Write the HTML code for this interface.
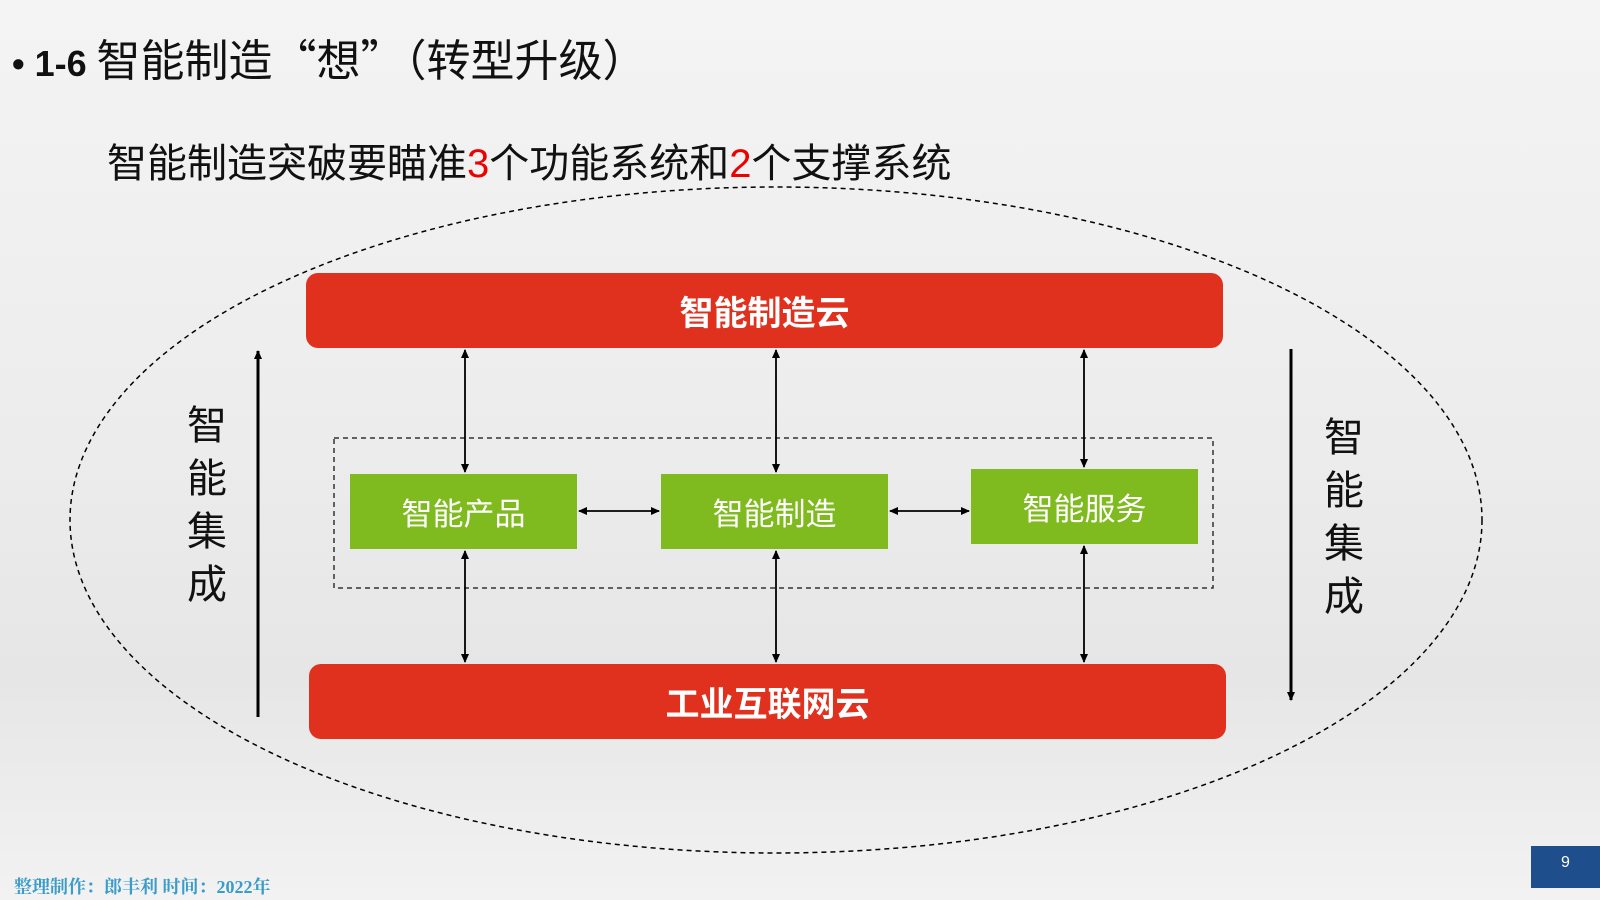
<!DOCTYPE html>
<html><head><meta charset="utf-8"><style>
body{margin:0;width:1600px;height:900px;overflow:hidden;background:linear-gradient(180deg,#f4f4f4 0%,#ececec 50%,#e6e6e6 75%,#f2f2f2 100%);font-family:"Liberation Sans","Noto Sans CJK SC",sans-serif;position:relative}
.t{position:absolute;white-space:nowrap}
.red{position:absolute;background:#e0301e;border-radius:12px;color:#fff;font-weight:bold;font-size:34px;display:flex;align-items:center;justify-content:center}
.g{position:absolute;background:#7fba1f;color:#fff;font-size:31px;display:flex;align-items:center;justify-content:center}
.v{position:absolute;font-size:40px;color:#111;line-height:53px;width:44px;text-align:center}
</style></head><body>
<div class="t" style="left:12px;top:25px;font-size:44px;color:#111;font-family:'Noto Sans CJK SC',sans-serif"><b style="font-size:36px;font-family:'Liberation Sans',sans-serif">• 1-6</b> 智能制造“想”（转型升级）</div>
<div class="t" style="left:107px;top:131px;font-size:40px;color:#111">智能制造突破要瞄准<span style="color:#e00">3</span>个功能系统和<span style="color:#e00">2</span>个支撑系统</div>
<svg width="1600" height="900" style="position:absolute;left:0;top:0">
<defs><marker id="a" markerWidth="10" markerHeight="10" refX="8" refY="5" orient="auto-start-reverse" markerUnits="userSpaceOnUse"><path d="M0,1 L9,5 L0,9 z" fill="#000"/></marker></defs>
<ellipse cx="776" cy="520" rx="706" ry="333" fill="none" stroke="#000" stroke-width="1.5" stroke-dasharray="5,4"/>
<rect x="334" y="438" width="879" height="150" fill="none" stroke="#333" stroke-width="1.5" stroke-dasharray="5,4"/>
<g stroke="#000" stroke-width="1.8" marker-start="url(#a)" marker-end="url(#a)">
<line x1="465" y1="350" x2="465" y2="472"/><line x1="776" y1="350" x2="776" y2="472"/><line x1="1084" y1="350" x2="1084" y2="467"/>
<line x1="465" y1="551" x2="465" y2="662"/><line x1="776" y1="551" x2="776" y2="662"/><line x1="1084" y1="546" x2="1084" y2="662"/>
<line x1="579" y1="511" x2="659" y2="511"/><line x1="890" y1="511" x2="969" y2="511"/>
</g>
<line x1="258" y1="717" x2="258" y2="351" stroke="#000" stroke-width="3" marker-end="url(#a)"/>
<line x1="1291" y1="349" x2="1291" y2="700" stroke="#000" stroke-width="3" marker-end="url(#a)"/>
</svg>
<div class="red" style="left:306px;top:273px;width:917px;height:75px">智能制造云</div>
<div class="red" style="left:309px;top:664px;width:917px;height:75px">工业互联网云</div>
<div class="g" style="left:350px;top:474px;width:227px;height:75px">智能产品</div>
<div class="g" style="left:661px;top:474px;width:227px;height:75px">智能制造</div>
<div class="g" style="left:971px;top:469px;width:227px;height:75px">智能服务</div>
<div class="v" style="left:185px;top:400px">智<br>能<br>集<br>成</div>
<div class="v" style="left:1322px;top:412px">智<br>能<br>集<br>成</div>
<div class="t" style="left:14px;top:873px;font-size:18px;font-weight:bold;color:#3a9cc8;font-family:'Liberation Serif','Noto Serif CJK SC',serif">整理制作：郎丰利 时间：2022年</div>
<div style="position:absolute;left:1531px;top:846px;width:69px;height:42px;background:#1f4e8c;color:#fff;font-size:16px;text-align:center;line-height:34px">9</div>
</body></html>
